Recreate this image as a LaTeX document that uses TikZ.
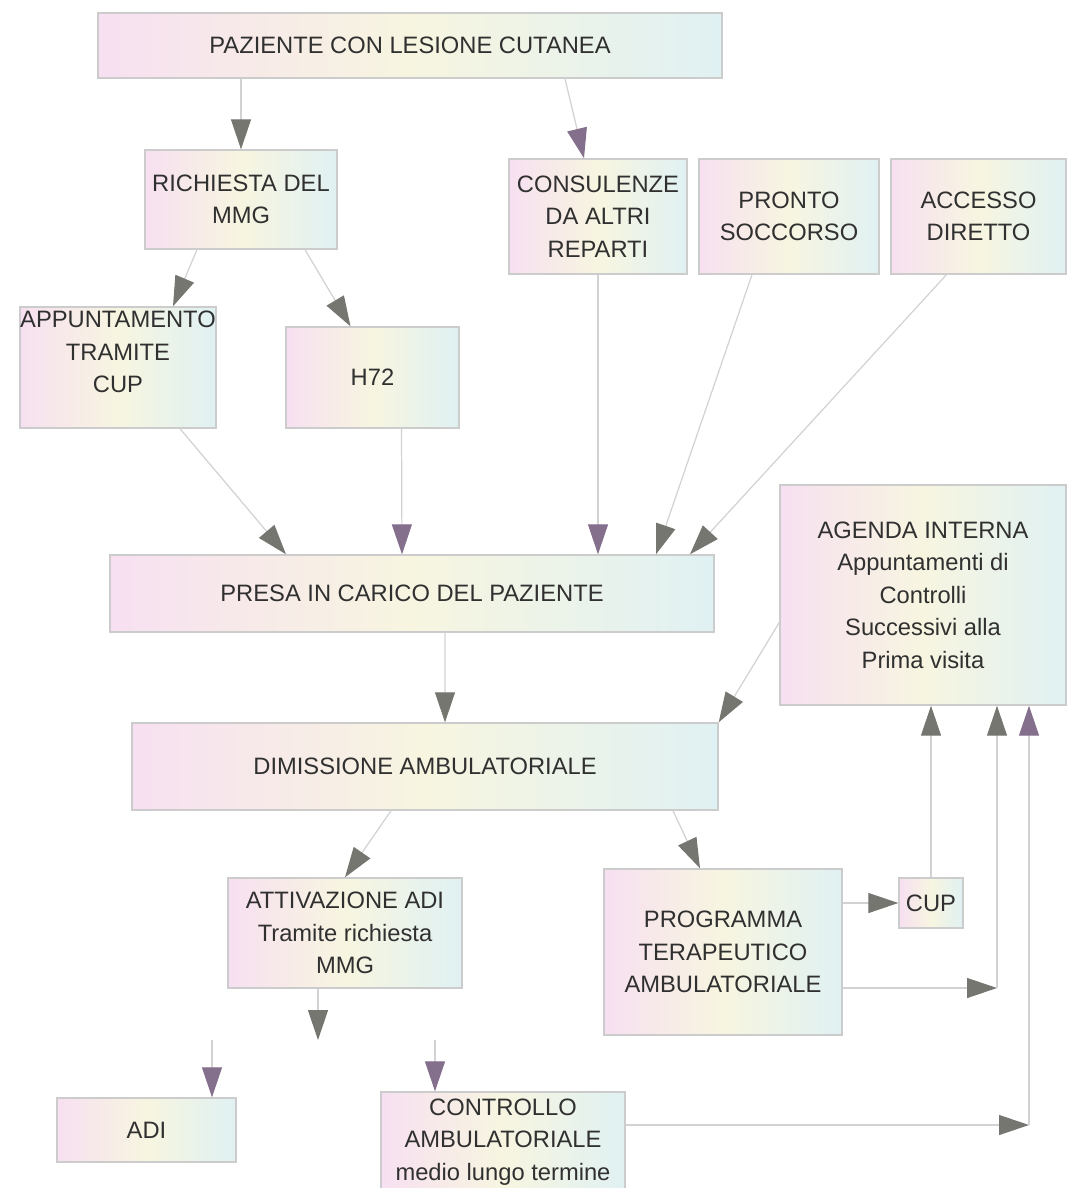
\documentclass[tikz,border=0pt]{standalone}
\usepackage{fontspec}
\setmainfont{Liberation Sans}
\usetikzlibrary{arrows.meta, calc}
\definecolor{tipgray}{RGB}{118,118,112}
\definecolor{tipmauve}{RGB}{132,112,140}
\definecolor{inkgray}{RGB}{48,48,48}
\definecolor{tintpink}{RGB}{247,224,241}
\definecolor{tintcyan}{RGB}{224,241,243}
\definecolor{tintyellow}{RGB}{247,245,224}
\tikzset{
    box/.style={draw=gray!40, line width=0.8pt, left color=tintpink, right color=tintcyan, middle color=tintyellow, align=center, inner sep=0pt, text=inkgray, font=\fontsize{13.5}{18.5}\selectfont},
    boxtext/.style={align=center, inner sep=0pt, text=inkgray, font=\fontsize{13.5}{18.5}\selectfont},
    conn/.style={draw=gray!35, line width=0.7pt, -{Triangle[length=0.6cm, width=0.4cm, color=tipgray]}},
    connp/.style={conn, -{Triangle[length=0.6cm, width=0.4cm, color=tipmauve]}}
}
\begin{document}
\begin{tikzpicture}
    \useasboundingbox (0,0) rectangle (21.32,-23.76);

    % --- Entry ---
    \node (paz) [box, minimum width=12.48cm, minimum height=1.30cm] at (8.20,-0.91) {PAZIENTE CON LESIONE CUTANEA};
    \node (rich) [box, minimum width=3.84cm, minimum height=1.98cm] at (4.82,-3.99) {RICHIESTA DEL\\MMG};
    \node (cons) [box, minimum width=3.56cm, minimum height=2.30cm] at (11.96,-4.33) {CONSULENZE\\DA ALTRI\\REPARTI};
    \node (pronto) [box, minimum width=3.60cm, minimum height=2.30cm] at (15.78,-4.33) {PRONTO\\SOCCORSO};
    \node (accesso) [box, minimum width=3.50cm, minimum height=2.30cm] at (19.57,-4.33) {ACCESSO\\DIRETTO};

    \node (app) [box, minimum width=3.92cm, minimum height=2.42cm] at (2.36,-7.35) {};
    \node (apptext) [boxtext] at ($(app.center)+(0,0.31)$) {APPUNTAMENTO\\TRAMITE\\CUP};
    \node (h72) [box, minimum width=3.46cm, minimum height=2.02cm] at (7.45,-7.55) {H72};

    % --- Presa in carico and dimissione ---
    \node (presa) [box, minimum width=12.08cm, minimum height=1.54cm] at (8.24,-11.87) {PRESA IN CARICO DEL PAZIENTE};
    \node (agenda) [box, minimum width=5.72cm, minimum height=4.40cm] at (18.46,-11.90) {AGENDA INTERNA\\Appuntamenti di\\Controlli\\Successivi alla\\Prima visita};
    \node (dim) [box, minimum width=11.72cm, minimum height=1.74cm] at (8.50,-15.33) {DIMISSIONE AMBULATORIALE};

    % --- Follow up ---
    \node (att) [box, minimum width=4.68cm, minimum height=2.20cm] at (6.90,-18.66) {ATTIVAZIONE ADI\\Tramite richiesta\\MMG};
    \node (prog) [box, minimum width=4.76cm, minimum height=3.32cm] at (14.46,-19.04) {PROGRAMMA\\TERAPEUTICO\\AMBULATORIALE};
    \node (cup) [box, minimum width=1.28cm, minimum height=1.00cm] at (18.62,-18.06) {CUP};
    \node (adi) [box, minimum width=3.58cm, minimum height=1.28cm] at (2.93,-22.60) {ADI};
    \node (ctrl) [box, minimum width=4.88cm, minimum height=2.00cm] at (10.06,-22.84) {CONTROLLO\\AMBULATORIALE\\medio lungo termine};

    % --- Turning points ---
    \coordinate (fork) at (6.36,-20.80);
    \coordinate (forkL) at (4.24,-20.80);
    \coordinate (forkR) at (8.70,-20.80);
    \coordinate (turnA) at (19.94,-19.76);
    \coordinate (turnB) at (20.58,-22.50);

    % --- Connectors ---
    \draw[conn] (paz.south -| rich.north) -- (rich.north);
    \draw[connp] ($(paz.south)+(3.10,0)$) -- ($(cons.north)+(-0.28,0)$);
    \draw[conn] ($(rich.south)+(-0.88,0)$) -- ($(app.north)+(1.10,0)$);
    \draw[conn] ($(rich.south)+(1.28,0)$) -- ($(h72.north)+(-0.44,0)$);
    \draw[conn] ($(app.south)+(1.24,0)$) -- ($(presa.north)+(-2.52,0)$);
    \draw[connp] ($(h72.south)+(0.58,0)$) -- ($(presa.north)+(-0.20,0)$);
    \draw[connp] (cons.south) -- (cons.south |- presa.north);
    \draw[conn] ($(pronto.south)+(-0.74,0)$) -- ($(presa.north)+(4.88,0)$);
    \draw[conn] ($(accesso.south)+(-0.64,0)$) -- ($(presa.north)+(5.56,0)$);

    \draw[conn] ($(presa.south)+(0.66,0)$) -- ($(dim.north)+(0.40,0)$);
    \draw[conn] ($(agenda.west)+(0,-0.55)$) -- (dim.north east);
    \draw[conn] ($(dim.south)+(-0.68,0)$) -- (att.north);
    \draw[conn] ($(dim.south)+(4.96,0)$) -- ($(prog.north)+(-0.46,0)$);

    \draw[conn] (prog.east |- cup.west) -- (cup.west);
    \draw[conn] (cup.north) -- (cup.north |- agenda.south);
    \draw[conn] (prog.east |- turnA) -- (turnA);
    \draw[conn] (turnA) -- (turnA |- agenda.south);
    \draw[conn] (ctrl.east |- turnB) -- (turnB);
    \draw[connp] (turnB) -- (turnB |- agenda.south);

    \draw[conn] (att.south -| fork) -- (fork);
    \draw[connp] (forkL) -- (forkL |- adi.north);
    \draw[connp] (forkR) -- (forkR |- ctrl.north);
\end{tikzpicture}
\end{document}
